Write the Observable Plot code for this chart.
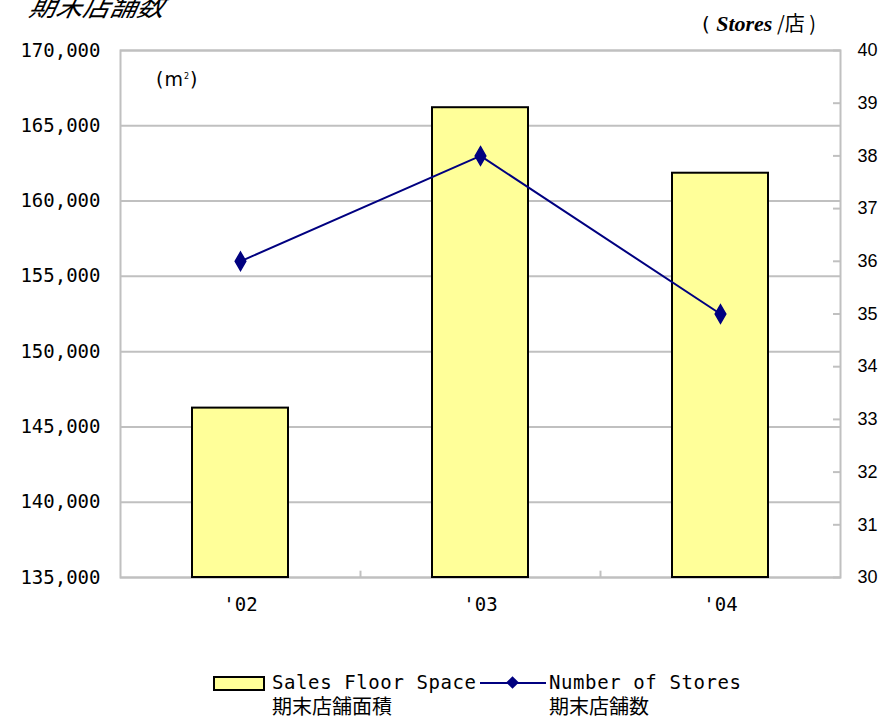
<!DOCTYPE html>
<html>
<head>
<meta charset="utf-8">
<script src="https://cdn.jsdelivr.net/npm/d3@7"></script>
<script src="https://cdn.jsdelivr.net/npm/@observablehq/plot@0.6"></script>
<style>
  html, body { margin: 0; padding: 0; background: #fff; }
  #wrap { position: relative; width: 884px; height: 720px; overflow: hidden; font-family: "DejaVu Sans Mono", monospace; }
  #chart { position: absolute; left: 0; top: 0; }
  .abs { position: absolute; white-space: nowrap; color: #000; }
  .cjk { font-family: "Noto Sans CJK JP", sans-serif; }
  .mono { font-family: "DejaVu Sans Mono", monospace; font-size: 19px; letter-spacing: 0.6px; }
</style>
</head>
<body>
<div id="wrap">
  <div id="chart"></div>
  <div class="abs cjk" style="left:30px; top:-10px; font-size:27px; line-height:30px; font-style:italic; transform:skewX(-12deg);">期末店舗数</div>
  <div class="abs" style="left:156px; top:65px; font-family:'DejaVu Sans', sans-serif; font-size:19px; line-height:24px; letter-spacing:1px;">(m<sup style="font-size:8px;">2</sup>)</div>
  <div class="abs" style="left:702px; top:11px; font-size:20px; line-height:24px;"><span style="font-family:'DejaVu Sans',sans-serif;">( </span><span style="font-family:'Liberation Serif',serif; font-weight:bold; font-style:italic; font-size:22px;">Stores</span><span class="cjk"> /店 )</span></div>
  <div id="legend"></div>
</div>
<script>
const years = ["'02", "'03", "'04"];
const floorSpace = [146250, 166200, 161850];
const stores = [36, 38, 35];
const leftTicks = [135000, 140000, 145000, 150000, 155000, 160000, 165000, 170000];
const rightTicks = [30, 31, 32, 33, 34, 35, 36, 37, 38, 39, 40];
const seriesNames = [["Sales Floor Space", "期末店舗面積"], ["Number of Stores", "期末店舗数"]];

const yMin = leftTicks[0], yMax = leftTicks[leftTicks.length - 1];
const sMin = rightTicks[0], sMax = rightTicks[rightTicks.length - 1];
const toLeft = s => yMin + (s - sMin) * (yMax - yMin) / (sMax - sMin);
const toRight = v => Math.round(sMin + (v - yMin) * (sMax - sMin) / (yMax - yMin));

const data = years.map((y, i) => ({year: y, space: floorSpace[i], stores: stores[i], storesY: toLeft(stores[i])}));

const W = 884, mL = 120, mR = 44;
const step = (W - mL - mR) / years.length;

const chart = Plot.plot({
  width: W,
  height: 640,
  marginLeft: mL,
  marginRight: mR,
  marginTop: 50,
  marginBottom: 63,
  style: {fontFamily: "DejaVu Sans Mono, monospace", fontSize: "19px", background: "transparent"},
  x: {domain: years, paddingInner: 0.6, paddingOuter: 0.3, axis: null},
  y: {domain: [yMin, yMax], axis: null},
  marks: [
    Plot.ruleY(leftTicks, {stroke: "#c0c0c0", strokeWidth: 2}),
    Plot.frame({stroke: "#c0c0c0", strokeWidth: 2}),
    Plot.ruleX(years.slice(1), {x: d => d, y1: yMin, y2: yMin + 420, dx: -step / 2, stroke: "#c0c0c0", strokeWidth: 2}),
    Plot.barY(data, {x: "year", y1: () => yMin, y2: "space", fill: "#ffff99", stroke: "#000", strokeWidth: 2}),
    Plot.line(data, {x: "year", y: "storesY", stroke: "#000080", strokeWidth: 2}),
    Plot.dot(data, {x: "year", y: "storesY", symbol: "diamond", r: 5.6, fill: "#000080", stroke: "#000080"}),
    Plot.axisY({ticks: leftTicks, anchor: "left", label: null, tickSize: 0, tickPadding: 20, tickFormat: d3.format(","), fontFamily: "DejaVu Sans Mono, monospace", fontSize: 19}),
    Plot.axisY({ticks: rightTicks.map(toLeft), anchor: "right", label: null, tickSize: -8, tickPadding: 25, tickFormat: toRight, stroke: "#c0c0c0", strokeWidth: 2, fontFamily: "Liberation Sans, Arial, sans-serif", fontSize: 18, color: "#000"}),
    Plot.axisX({anchor: "bottom", label: null, tickSize: 0, tickPadding: 20, fontFamily: "DejaVu Sans Mono, monospace", fontSize: 19})
  ]
});
document.getElementById("chart").appendChild(chart);

// legend
const legend = document.getElementById("legend");
legend.innerHTML = `
  <div class="abs" style="left:213px; top:676px; width:48px; height:11px; background:#ffff99; border:2px solid #000;"></div>
  <div class="abs mono" style="left:272px; top:672px; line-height:20px;">${seriesNames[0][0]}</div>
  <div class="abs cjk" style="left:272px; top:695px; font-size:20px; line-height:21px;">${seriesNames[0][1]}</div>
  <div class="abs" style="left:480px; top:682px; width:66px; height:2px; background:#000080;"></div>
  <div class="abs" style="left:508px; top:678px; width:9px; height:9px; background:#000080; transform:rotate(45deg);"></div>
  <div class="abs mono" style="left:549px; top:672px; line-height:20px;">${seriesNames[1][0]}</div>
  <div class="abs cjk" style="left:549px; top:695px; font-size:20px; line-height:21px;">${seriesNames[1][1]}</div>
`;
</script>
</body>
</html>
